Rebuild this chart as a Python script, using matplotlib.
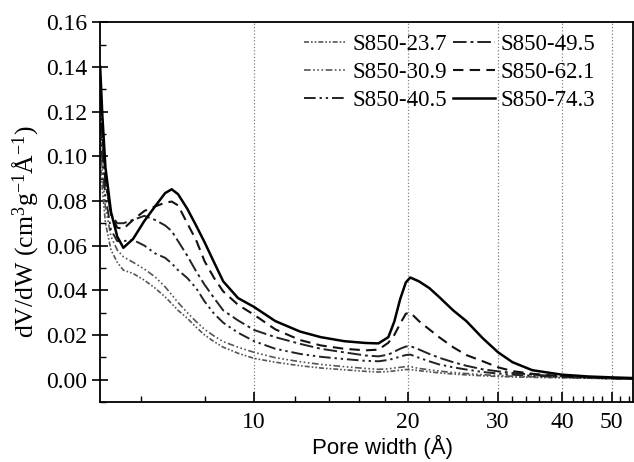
import numpy as np
import matplotlib.pyplot as plt
from matplotlib.ticker import FixedLocator, NullFormatter, MultipleLocator, FormatStrFormatter

plt.rcParams['font.family'] = 'Liberation Serif'
plt.rcParams['mathtext.fontset'] = 'custom'
plt.rcParams['mathtext.rm'] = 'Liberation Serif'
plt.rcParams['mathtext.it'] = 'Liberation Serif'

# pore width (A)
width = [5.0, 5.05, 5.12, 5.25, 5.4, 5.55, 5.8, 6.1, 6.4, 6.7, 6.9, 7.1, 7.4, 7.7, 8.0,
         8.35, 8.7, 9.3, 10, 11, 12.3, 13.5, 15, 16.5, 17.5, 18.3, 18.8, 19.3, 19.8, 20.2,
         21, 22, 23, 24.5, 26, 28, 30, 32, 35, 40, 45, 50, 55]

s23_7 = [0.100, 0.085, 0.070, 0.058, 0.0525, 0.049, 0.0475, 0.0445, 0.041, 0.037, 0.034,
         0.031, 0.0275, 0.0235, 0.020, 0.017, 0.0145, 0.0118, 0.0095, 0.0078, 0.0062,
         0.0052, 0.0044, 0.0037, 0.0034, 0.0036, 0.0039, 0.0042, 0.0045, 0.0045, 0.0040,
         0.0035, 0.0030, 0.0025, 0.0021, 0.0017, 0.0014, 0.0012, 0.0010, 0.0008, 0.0006,
         0.0004, 0.0003]
s30_9 = [0.108, 0.092, 0.077, 0.064, 0.058, 0.055, 0.0525, 0.0495, 0.046, 0.0415, 0.038,
         0.0345, 0.030, 0.026, 0.0225, 0.0195, 0.017, 0.0145, 0.0122, 0.0098, 0.008,
         0.0068, 0.0058, 0.0050, 0.0046, 0.0048, 0.0052, 0.0055, 0.0058, 0.0058, 0.0050,
         0.0044, 0.0038, 0.0032, 0.0027, 0.0022, 0.0018, 0.0015, 0.0013, 0.0010, 0.0007,
         0.0005, 0.0003]
s40_5 = [0.115, 0.098, 0.082, 0.067, 0.062, 0.062, 0.0625, 0.060, 0.0565, 0.0545, 0.052,
         0.049, 0.0455, 0.041, 0.035, 0.0295, 0.0255, 0.021, 0.0172, 0.0138, 0.0115,
         0.0102, 0.0092, 0.0084, 0.0082, 0.0088, 0.0095, 0.0103, 0.0110, 0.0112, 0.0098,
         0.0082, 0.0068, 0.0055, 0.0045, 0.0034, 0.0027, 0.0022, 0.0017, 0.0012, 0.0008,
         0.0005, 0.0003]
s49_5 = [0.125, 0.105, 0.088, 0.074, 0.070, 0.070, 0.0715, 0.0733, 0.0715, 0.069, 0.0665,
         0.062, 0.0555, 0.0485, 0.0425, 0.0365, 0.031, 0.0265, 0.0222, 0.019, 0.016,
         0.0138, 0.0122, 0.0108, 0.0104, 0.0112, 0.0125, 0.0138, 0.0148, 0.0150, 0.0135,
         0.0115, 0.0098, 0.0078, 0.0062, 0.0046, 0.0037, 0.0030, 0.0022, 0.0015, 0.0010,
         0.0006, 0.0004]
s62_1 = [0.130, 0.110, 0.090, 0.074, 0.068, 0.0675, 0.0715, 0.0755, 0.0775, 0.0792, 0.0797,
         0.078, 0.070, 0.0625, 0.053, 0.0455, 0.0395, 0.0335, 0.029, 0.0225, 0.0177,
         0.0153, 0.0138, 0.0131, 0.0134, 0.0165, 0.020, 0.025, 0.0295, 0.0300, 0.0262,
         0.0225, 0.019, 0.0145, 0.011, 0.0082, 0.0055, 0.0038, 0.0026, 0.0015, 0.0010,
         0.0006, 0.0004]
s74_3 = [0.140, 0.118, 0.095, 0.075, 0.064, 0.059, 0.063, 0.071, 0.0775, 0.0835, 0.0852,
         0.083, 0.0765, 0.069, 0.0615, 0.0525, 0.044, 0.0365, 0.0325, 0.0262, 0.0215,
         0.019, 0.0172, 0.0164, 0.0162, 0.019, 0.026, 0.036, 0.0435, 0.0457, 0.0440,
         0.0410, 0.0370, 0.031, 0.0262, 0.0185, 0.0122, 0.0078, 0.0042, 0.0022, 0.0014,
         0.0010, 0.0007]

labels = ['S850-23.7', 'S850-30.9', 'S850-40.5', 'S850-49.5', 'S850-62.1', 'S850-74.3']
series = [s23_7, s30_9, s40_5, s49_5, s62_1, s74_3]
styles = [(0, (3, 1.2, 1, 1.2, 1, 1.2)),
          (0, (4, 1.5, 1, 1.5, 1, 1.5, 1, 1.5)),
          (0, (6, 2, 1.2, 2, 1.2, 2)),
          (0, (7, 2, 1.5, 2)),
          (0, (5, 3)),
          '-']
colors = ['#555555', '#555555', '#222222', '#222222', '#111111', '#000000']
widths = [1.2, 1.2, 1.4, 1.4, 1.5, 1.8]

fig = plt.figure(figsize=(6.34, 4.62), dpi=100)
ax = fig.add_axes([0.158, 0.13, 0.84, 0.822])

for y, lab, ls, c, lw in zip(series, labels, styles, colors, widths):
    ax.plot(width, y, linestyle=ls, color=c, lw=lw, label=lab)

ax.set_xscale('log')
ax.set_xlim(5, 55)
ax.set_ylim(-0.01, 0.16)

ax.xaxis.set_major_locator(FixedLocator([10, 20, 30, 40, 50]))
ax.xaxis.set_major_formatter(FormatStrFormatter('%d'))
minor = [m for m in range(6, 56, 2) if m % 10 != 0]
ax.xaxis.set_minor_locator(FixedLocator(minor))
ax.xaxis.set_minor_formatter(NullFormatter())
ax.yaxis.set_major_locator(MultipleLocator(0.02))
ax.yaxis.set_minor_locator(MultipleLocator(0.01))
ax.yaxis.set_major_formatter(FormatStrFormatter('%.2f'))

ax.tick_params(which='major', direction='in', length=7, width=1.2, labelsize=17, pad=7)
ax.tick_params(which='minor', direction='in', length=4, width=1.0)
ax.tick_params(axis='y', which='major', direction='inout', length=11, pad=4)

for sp in ax.spines.values():
    sp.set_linewidth(1.3)

ax.grid(True, axis='x', which='major', linestyle=':', color='gray', lw=0.9)

ax.set_xlabel('Pore width (Å)', family='Liberation Sans', fontsize=16)
ax.xaxis.set_label_coords(0.53, -0.088)
ax.set_ylabel('dV/dW (cm$^{3}$g$^{-1}$Å$^{-1}$)', fontsize=18.5)
ax.yaxis.set_label_coords(-0.112, 0.45)

ax.legend(ncol=2, loc='upper right', bbox_to_anchor=(0.96, 1.01), frameon=False,
          fontsize=16.5, handlelength=1.85, handletextpad=0.25, columnspacing=0.25,
          labelspacing=0.3, borderpad=0.2)

fig.savefig('out.png', dpi=100)
